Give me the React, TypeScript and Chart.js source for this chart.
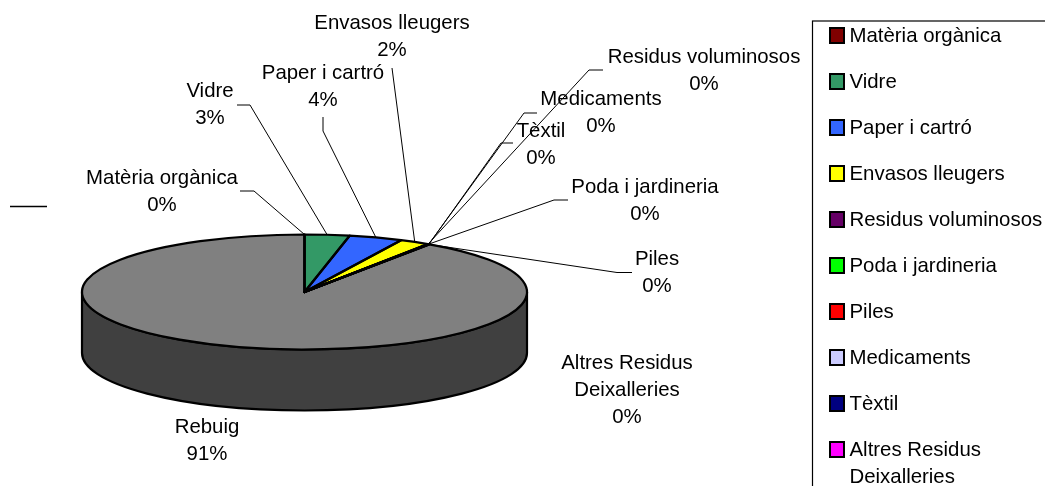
import React, { useEffect, useRef } from "react";
import { Chart, registerables } from "chart.js";

Chart.register(...registerables);

const categories = [
  "Matèria orgànica",
  "Vidre",
  "Paper i cartró",
  "Envasos lleugers",
  "Residus voluminosos",
  "Poda i jardineria",
  "Piles",
  "Medicaments",
  "Tèxtil",
  "Altres Residus Deixalleries",
  "Rebuig",
];
const shares = [0, 3.25, 3.9, 2.2, 0.03, 0.03, 0.01, 0.01, 0.02, 0.02, 90.53];
const colors = [
  "#800000",
  "#339966",
  "#3366FF",
  "#FFFF00",
  "#660066",
  "#00FF00",
  "#FF0000",
  "#CCCCFF",
  "#000080",
  "#FF00FF",
  "#808080",
];

const W = 1045;
const H = 486;
const FONT = '20.4px "Liberation Sans", Arial, sans-serif';
const CY_TOP = 292; // screen y of the pie's top-face centre
const RY = 57.5;
const DEPTH = 61;
const SIDE_COLOR = "#404040";
const LINE_H = 27;
const OUTLINE = 2.2;

// Label layout: cx = text centre, y = first baseline, path = leader polyline ending at the slice.
const labelLayout: { cx: number; y: number; path: number[][] }[] = [
  { cx: 162, y: 184, path: [[240, 191], [254, 191]] },
  { cx: 210, y: 97, path: [[237, 105], [250, 105]] },
  { cx: 323, y: 79, path: [[323, 117], [323, 131]] },
  { cx: 392, y: 29, path: [[392, 68]] },
  { cx: 704, y: 63, path: [[603, 70], [589, 70]] },
  { cx: 645, y: 193, path: [[568, 200], [554, 200]] },
  { cx: 657, y: 265, path: [[632, 272.5], [617, 272.5]] },
  { cx: 601, y: 105, path: [[537, 113], [524, 113]] },
  { cx: 541, y: 137, path: [[513, 143], [501, 143]] },
  { cx: 627, y: 369, path: [] },
  { cx: 207, y: 433, path: [] },
];

function wrapName(name: string): string[] {
  if (name.length <= 24) return [name];
  const i = name.lastIndexOf(" ");
  return [name.slice(0, i), name.slice(i + 1)];
}

const pie3d = {
  id: "pie3d",
  beforeDatasetsDraw(chart: any) {
    const ctx = chart.ctx;
    const arcs = chart.getDatasetMeta(0).data;
    const { x: cx, outerRadius: rx, y: cy } = arcs[0].getProps(["x", "y", "outerRadius"], true);
    // side wall
    ctx.save();
    ctx.beginPath();
    ctx.ellipse(cx, CY_TOP, rx, RY, 0, 0, Math.PI, false);
    ctx.lineTo(cx - rx, CY_TOP + DEPTH);
    ctx.ellipse(cx, CY_TOP + DEPTH, rx, RY, 0, Math.PI, 0, true);
    ctx.closePath();
    ctx.fillStyle = SIDE_COLOR;
    ctx.fill();
    ctx.strokeStyle = "#000";
    ctx.lineWidth = OUTLINE;
    ctx.stroke();
    ctx.restore();
    // squash the library's arcs onto the tilted top face
    ctx.save();
    ctx.translate(cx, CY_TOP);
    ctx.scale(1, RY / rx);
    ctx.translate(-cx, -cy);
  },
  afterDatasetsDraw(chart: any) {
    const ctx = chart.ctx;
    ctx.restore();
    const arcs = chart.getDatasetMeta(0).data;
    const first = arcs[0].getProps(["x", "outerRadius"], true);
    const cx = first.x;
    const rx = first.outerRadius;
    ctx.save();
    ctx.strokeStyle = "#000";
    ctx.lineWidth = OUTLINE;
    ctx.lineJoin = "round";
    arcs.forEach((a: any) => {
      const p = a.getProps(["startAngle", "endAngle"], true);
      ctx.beginPath();
      ctx.moveTo(cx, CY_TOP);
      ctx.ellipse(cx, CY_TOP, rx, RY, 0, p.startAngle, p.endAngle, false);
      ctx.closePath();
      ctx.stroke();
    });
    ctx.restore();
  },
  afterDraw(chart: any) {
    const ctx = chart.ctx;
    const arcs = chart.getDatasetMeta(0).data;
    const first = arcs[0].getProps(["x", "outerRadius"], true);
    const cx = first.x;
    const rx = first.outerRadius;
    const values: number[] = chart.data.datasets[0].data;
    const total = values.reduce((s, v) => s + v, 0);
    ctx.save();
    ctx.font = FONT;
    ctx.textBaseline = "alphabetic";
    // leaders
    ctx.strokeStyle = "#000";
    ctx.lineWidth = 1;
    arcs.forEach((a: any, i: number) => {
      const layout = labelLayout[i];
      if (!layout.path.length) return;
      const p = a.getProps(["startAngle", "endAngle"], true);
      const mid = (p.startAngle + p.endAngle) / 2;
      ctx.beginPath();
      layout.path.forEach(([x, y], k) => (k ? ctx.lineTo(x, y) : ctx.moveTo(x, y)));
      ctx.lineTo(cx + rx * Math.cos(mid), CY_TOP + RY * Math.sin(mid));
      ctx.stroke();
    });
    // data labels
    ctx.fillStyle = "#000";
    ctx.textAlign = "center";
    categories.forEach((name, i) => {
      const layout = labelLayout[i];
      const lines = [...wrapName(name), `${Math.round((values[i] / total) * 100)}%`];
      lines.forEach((t, k) => ctx.fillText(t, layout.cx, layout.y + k * LINE_H));
    });
    // stray dash left by the source chart
    ctx.lineWidth = 1.5;
    ctx.beginPath();
    ctx.moveTo(10, 206.5);
    ctx.lineTo(47, 206.5);
    ctx.stroke();
    // legend
    ctx.lineWidth = 1.2;
    ctx.strokeRect(812.5, 21, 400, 600);
    ctx.textAlign = "left";
    categories.forEach((name, i) => {
      const top = 28 + 46 * i;
      ctx.fillStyle = colors[i];
      ctx.fillRect(830, top, 14, 15);
      ctx.strokeStyle = "#000";
      ctx.lineWidth = 2;
      ctx.strokeRect(830, top, 14, 15);
      ctx.fillStyle = "#000";
      wrapName(name).forEach((t, k) => ctx.fillText(t, 849.5, top + 14 + k * 27));
    });
    ctx.restore();
  },
};

export default function App() {
  const ref = useRef<HTMLCanvasElement>(null);
  useEffect(() => {
    const chart = new Chart(ref.current as HTMLCanvasElement, {
      type: "pie",
      data: {
        labels: categories,
        datasets: [{ data: shares, backgroundColor: colors, borderWidth: 0 }],
      },
      options: {
        responsive: false,
        animation: false,
        events: [],
        layout: { padding: { left: 82, right: 518, top: 20, bottom: 21 } },
        plugins: { legend: { display: false }, tooltip: { enabled: false } },
      },
      plugins: [pie3d],
    } as any);
    return () => chart.destroy();
  }, []);
  return (
    <div style={{ position: "fixed", left: 0, top: 0, width: W, height: H, background: "#fff", overflow: "hidden" }}>
      <canvas ref={ref} width={W} height={H} style={{ display: "block" }} />
    </div>
  );
}
